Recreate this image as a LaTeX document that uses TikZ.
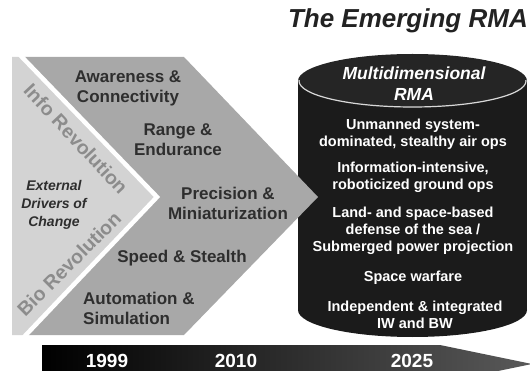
\documentclass[tikz,border=0pt]{standalone}
\usepackage{fontspec}
\setmainfont{Liberation Sans}
\definecolor{chevlight}{HTML}{D3D3D3}
\definecolor{chevmid}{HTML}{A8A8A8}
\definecolor{chevtext}{HTML}{2E2E2E}
\definecolor{revtext}{HTML}{8C8C8C}
\definecolor{drumbody}{HTML}{1B1B1B}
\definecolor{drumtop}{HTML}{252525}
\definecolor{drumrim}{HTML}{D8D8D8}
\definecolor{titletext}{HTML}{222222}
\begin{document}
\begin{tikzpicture}[x=1pt,y=-1pt,
  chevlabel/.style={font=\bfseries\fontsize{17}{20}\selectfont, text=chevtext, align=center, inner sep=0pt},
  revlabel/.style={font=\bfseries\fontsize{19.5}{22}\selectfont, text=revtext, inner sep=0pt},
  druglabel/.style={font=\bfseries\fontsize{14.5}{17}\selectfont, text=white, align=center, inner sep=0pt},
  yearlabel/.style={font=\bfseries\fontsize{19}{22}\selectfont, text=white, inner sep=0pt, anchor=base}]
\useasboundingbox (0,0) rectangle (530,371);
\clip (0,0) rectangle (530,371);

% title
\node[font=\bfseries\itshape\fontsize{26}{29}\selectfont, text=titletext, anchor=base east, inner sep=0pt]
  (title) at (528,28) {The Emerging RMA};

% cylinder: body, bottom and top face
\fill[drumbody] (298,81) rectangle (527,310);
\fill[drumbody] (412.5,310) ellipse [x radius=114.5, y radius=27];
\fill[drumtop] (412.5,81) ellipse [x radius=114.5, y radius=27];
\begin{scope}
  \clip (290,81) rectangle (535,120);
  \draw[drumrim, line width=1.2pt] (412.5,81) ellipse [x radius=113.5, y radius=26];
\end{scope}

% light back panel
\fill[chevlight] (12,57) -- (22,57) -- (157,197) -- (26,335) -- (12,335) -- cycle;
% main chevron
\fill[chevmid] (22,57) -- (184,57) -- (318,197) -- (184,335) -- (26,335) -- (157,197) -- cycle;
\draw[white, line width=4.5pt] (20,55) -- (157,197) -- (24,337);

% timeline arrow
\shade[left color=black, right color=black!65] (42,345) -- (440,345) -- (532,364) -- (440,383) -- (42,383) -- cycle;

% chevron labels
\node[chevlabel] (aware) at (128,88) {Awareness \&\\Connectivity};
\node[chevlabel] (range) at (178,140) {Range \&\\Endurance};
\node[chevlabel] (prec) at (228,203) {Precision \&\\Miniaturization};
\node[chevlabel] (speed) at (182,258) {Speed \& Stealth};
\node[chevlabel, align=left, anchor=west] (auto) at (83,308) {Automation \&\\Simulation};

\node[revlabel, rotate=-47] (info) at (76,139) {Info Revolution};
\node[revlabel, rotate=45] (bio) at (69,264) {Bio Revolution};
\node[font=\bfseries\itshape\fontsize{14}{18}\selectfont, text=chevtext, align=center, inner sep=0pt]
  (drivers) at (54,205) {External\\Drivers of\\Change};

% cylinder labels
\node[druglabel, font=\bfseries\itshape\fontsize{17.5}{21}\selectfont] (multi) at (414,84) {Multidimensional\\RMA};
\node[druglabel] (air) at (413,134) {Unmanned system-\\dominated, stealthy air ops};
\node[druglabel] (ground) at (413,177) {Information-intensive,\\roboticized ground ops};
\node[druglabel] (sea) at (413,231) {Land- and space-based\\defense of the sea /\\Submerged power projection};
\node[druglabel] (space) at (413,278) {Space warfare};
\node[druglabel] (iwbw) at (415,315) {Independent \& integrated\\IW and BW};

% years
\node[yearlabel] (y1999) at (107,367.5) {1999};
\node[yearlabel] (y2010) at (236,367.5) {2010};
\node[yearlabel] (y2025) at (412,367.5) {2025};
\end{tikzpicture}
\end{document}
